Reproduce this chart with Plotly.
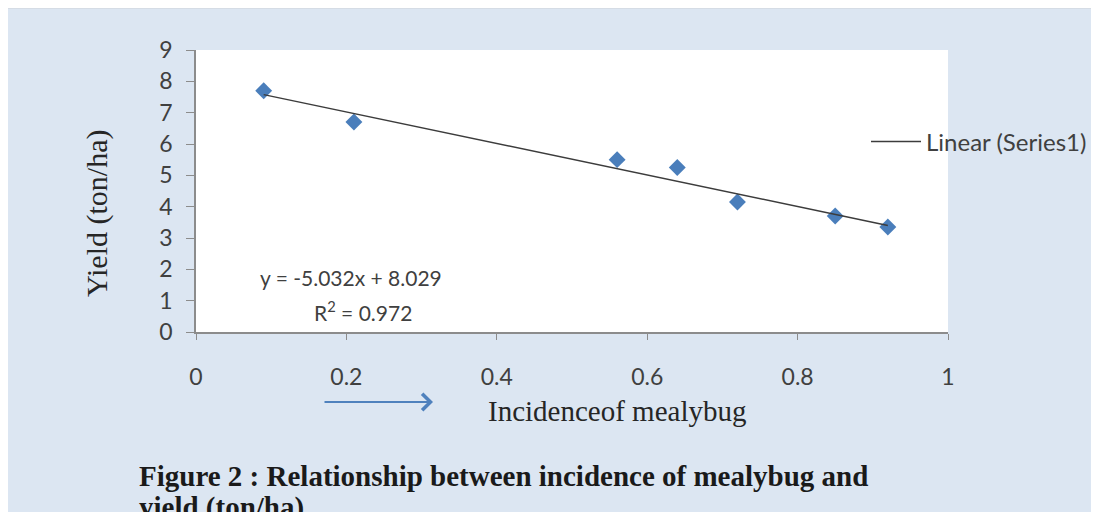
import plotly.graph_objects as go

# ---- data ----
incidence = [0.09, 0.21, 0.56, 0.64, 0.72, 0.85, 0.92]
yield_ton_ha = [7.7, 6.7, 5.5, 5.25, 4.15, 3.7, 3.35]
slope = -5.032
intercept = 8.029
r_squared = 0.972
x_ticks = [0, 0.2, 0.4, 0.6, 0.8, 1]
y_ticks = [0, 1, 2, 3, 4, 5, 6, 7, 8, 9]

# page body has an 8px margin; keep the whole figure inside the 1099x520 window
OX, OY = 8, 8
W, H = 1083, 504
L, R, T, B = 188, 143, 42, 180
PW, PH = W - L - R, H - T - B


def px(xs):
    """screen x pixel -> paper coordinate"""
    return (xs - OX - L) / PW


def py(ys):
    """screen y pixel -> paper coordinate"""
    return (H - B - (ys - OY)) / PH


fit_x = [min(incidence), max(incidence)]
fit_y = [slope * v + intercept for v in fit_x]

fig = go.Figure()
fig.add_trace(go.Scatter(
    x=incidence, y=yield_ton_ha, mode="markers", name="Series1",
    marker=dict(symbol="diamond", size=13, color="#4a7ebb"),
    showlegend=False,
))
fig.add_trace(go.Scatter(
    x=fit_x, y=fit_y, mode="lines", name="Linear (Series1)",
    line=dict(color="#3c3c3c", width=1.5),
    showlegend=True,
))

sans = "Lato, Carlito, Calibri, sans-serif"
serif = "Liberation Serif, Times New Roman, serif"
txt = "#404040"

fig.update_layout(
    width=W, height=H,
    margin=dict(l=L, r=R, t=T, b=B, autoexpand=False),
    paper_bgcolor="#dce6f2",
    plot_bgcolor="white",
    font=dict(family=sans, size=22, color=txt),
    showlegend=True,
    legend=dict(
        x=px(866), y=py(142), xanchor="left", yanchor="middle",
        bgcolor="rgba(0,0,0,0)", font=dict(family=sans, size=24, color=txt),
        itemwidth=50, tracegroupgap=0,
    ),
    xaxis=dict(
        range=[0, 1], tickvals=x_ticks, ticktext=[f"{v:g}" for v in x_ticks],
        showgrid=False, zeroline=False, showline=True, linecolor="#8c8c8c", linewidth=1.5,
        ticks="outside", ticklen=6, tickcolor="#8c8c8c", ticklabelstandoff=18,
        tickfont=dict(family=sans, size=23, color=txt),
    ),
    yaxis=dict(
        range=[0, 9], tickvals=y_ticks,
        showgrid=False, zeroline=False, showline=True, linecolor="#8c8c8c", linewidth=1.5,
        ticks="outside", ticklen=8, tickcolor="#8c8c8c", ticklabelstandoff=9,
        tickfont=dict(family=sans, size=23, color=txt),
    ),
    shapes=[
        dict(type="line", xref="paper", yref="paper", layer="below",
             x0=px(7), x1=px(1120), y0=py(7.5), y1=py(7.5),
             line=dict(color="#bfbfbf", width=1.5)),
        dict(type="rect", xref="paper", yref="paper", layer="below",
             x0=0, x1=1, y0=0, y1=1,
             fillcolor="white", line=dict(width=0)),
    ],
    annotations=[
        dict(text=f"y = {slope}x + {intercept}", xref="paper", yref="paper",
             x=px(351), y=py(277), xanchor="center", yanchor="middle", showarrow=False,
             font=dict(family=sans, size=21, color=txt)),
        dict(text=f"R<sup>2</sup> = {r_squared}", xref="paper", yref="paper",
             x=px(363), y=py(311), xanchor="center", yanchor="middle", showarrow=False,
             font=dict(family=sans, size=21, color=txt)),
        dict(text="Yield (ton/ha)", xref="paper", yref="paper", textangle=-90,
             x=px(97), y=py(214), xanchor="center", yanchor="middle", showarrow=False,
             font=dict(family=serif, size=30, color="#262626")),
        dict(text="Incidenceof mealybug", xref="paper", yref="paper",
             x=px(617), y=py(411), xanchor="center", yanchor="middle", showarrow=False,
             font=dict(family=serif, size=29, color="#262626")),
        dict(text="", xref="paper", yref="paper", x=px(433), y=py(402),
             ax=-110, ay=0, showarrow=True, arrowhead=4, arrowsize=1.6,
             arrowwidth=2, arrowcolor="#4f81bd"),
        dict(text="<b>Figure 2 : Relationship between incidence of mealybug and</b>",
             xref="paper", yref="paper", x=px(137), y=py(476), xanchor="left",
             yanchor="middle", showarrow=False,
             font=dict(family=serif, size=29, color="#1a1a1a")),
        dict(text="<b>yield (ton/ha)</b>",
             xref="paper", yref="paper", x=px(137), y=py(507), xanchor="left",
             yanchor="middle", showarrow=False,
             font=dict(family=serif, size=29, color="#1a1a1a")),
    ],
)

fig.write_html("out.html")
